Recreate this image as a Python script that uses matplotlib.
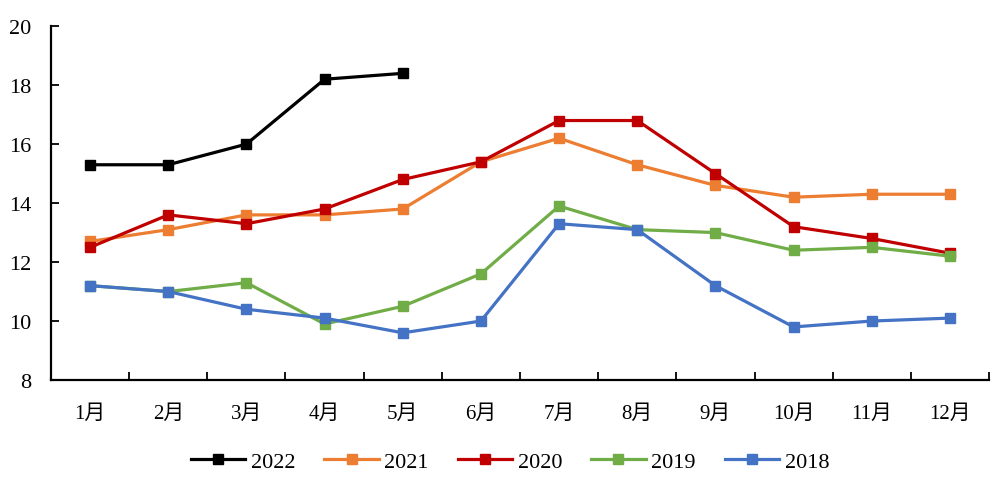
import matplotlib
matplotlib.use("Agg")
import matplotlib.pyplot as plt
import numpy as np

months = ["1月", "2月", "3月", "4月", "5月", "6月", "7月", "8月", "9月", "10月", "11月", "12月"]
y2022 = [15.3, 15.3, 16.0, 18.2, 18.4]
y2021 = [12.7, 13.1, 13.6, 13.6, 13.8, 15.4, 16.2, 15.3, 14.6, 14.2, 14.3, 14.3]
y2020 = [12.5, 13.6, 13.3, 13.8, 14.8, 15.4, 16.8, 16.8, 15.0, 13.2, 12.8, 12.3]
y2019 = [11.2, 11.0, 11.3, 9.9, 10.5, 11.6, 13.9, 13.1, 13.0, 12.4, 12.5, 12.2]
y2018 = [11.2, 11.0, 10.4, 10.1, 9.6, 10.0, 13.3, 13.1, 11.2, 9.8, 10.0, 10.1]

series = [("2022", y2022, "#000000"), ("2021", y2021, "#ED7D31"),
          ("2020", y2020, "#C00000"), ("2019", y2019, "#70AD47"),
          ("2018", y2018, "#4472C4")]

plt.rcParams['font.family'] = ['Liberation Serif', 'Noto Sans CJK SC']

fig = plt.figure(figsize=(10, 4.85), dpi=100)
ax = fig.add_axes([0.051, 0.2144, 0.938, 0.7296])

for name, vals, col in series:
    x = np.arange(len(vals))
    ax.plot(x, vals, color=col, lw=2.3, marker='s', markersize=7, label=name)

ax.set_xlim(-0.5, 11.5)
ax.set_ylim(8, 20)
ax.set_yticks(np.arange(8, 21, 2))
ax.set_xticks(np.arange(12))
ax.set_xticklabels(months)
ax.set_xticks(np.arange(-0.5, 12, 1), minor=True)
ax.tick_params(axis='x', which='major', length=0, pad=17, labelsize=15)
ax.tick_params(axis='x', which='minor', direction='in', length=6, width=1.3)
ax.tick_params(axis='y', direction='in', length=6, width=1.3, labelsize=16, pad=14)
for s in ['top', 'right']:
    ax.spines[s].set_visible(False)
for s in ['left', 'bottom']:
    ax.spines[s].set_linewidth(1.6)

leg = fig.legend(loc='center', bbox_to_anchor=(0.51, 0.046), ncol=5, frameon=False,
                 fontsize=16, handlelength=2.45, columnspacing=1.3, handletextpad=0.25)

fig.savefig("out.png", dpi=100)
